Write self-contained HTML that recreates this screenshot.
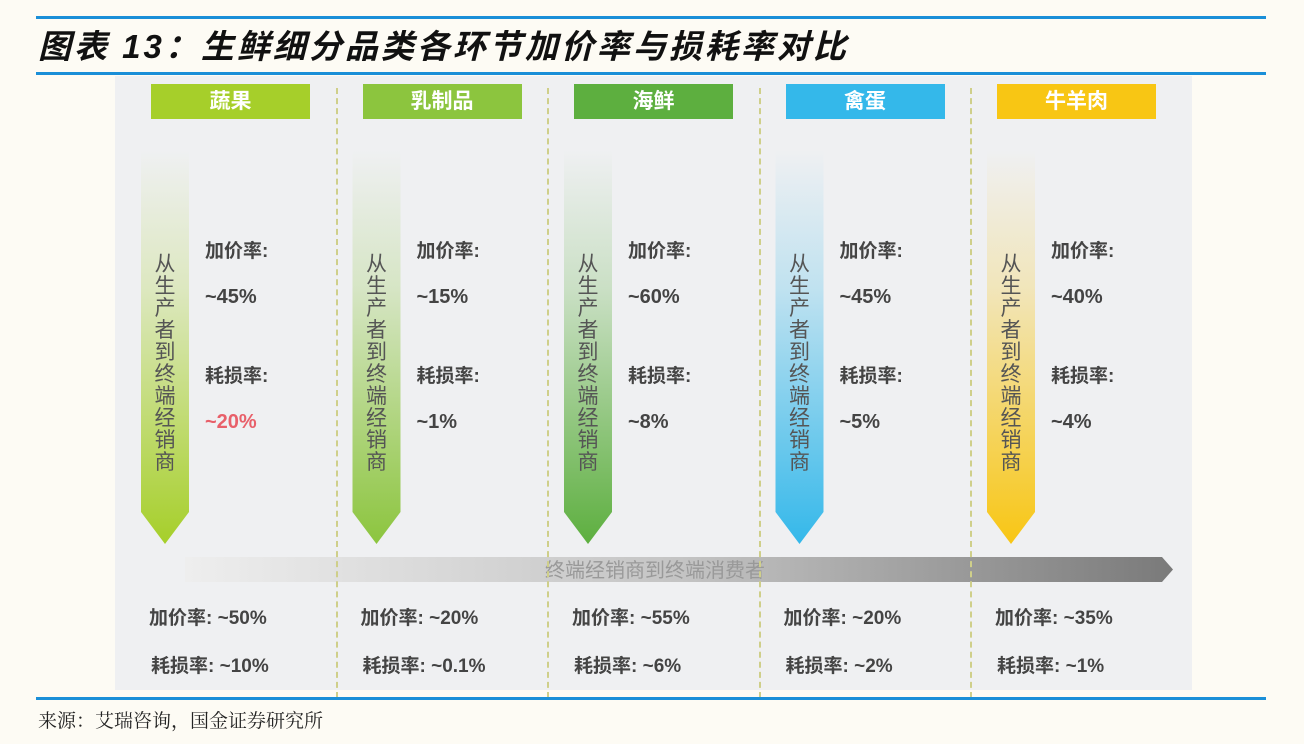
<!DOCTYPE html>
<html><head><meta charset="utf-8">
<style>
body{margin:0;width:1304px;height:744px;background:#fdfbf4;font-family:"Liberation Sans","Noto Sans CJK SC",sans-serif;position:relative;overflow:hidden}
.abs{position:absolute}
.hline{position:absolute;left:36px;width:1230px;height:3px;background:#1a8fd8}
.title{position:absolute;left:38px;top:20px;font-family:"Liberation Sans","Noto Sans CJK SC",sans-serif;font-size:33px;font-weight:bold;font-style:italic;color:#111;letter-spacing:3px;white-space:nowrap}
.panel{position:absolute;left:115px;top:76px;width:1077px;height:614px;background:#eff0f2}
.sep{position:absolute;top:88px;height:610px;border-left:2px dashed #cfcf8a}
.hdr{position:absolute;top:84px;height:35px;color:#fff;font-weight:bold;font-size:21px;text-align:center;line-height:35px}
.lab{position:absolute;color:#444;font-size:19px;font-weight:bold;white-space:nowrap}
.vt{position:absolute;width:24px;font-size:21px;line-height:22px;color:#555;text-align:center}
.src{position:absolute;left:38px;top:706px;font-family:"Liberation Serif","Noto Serif CJK SC",serif;font-size:19px;color:#222}
</style></head><body>
<div class="hline" style="top:16px"></div>
<div class="title">图表 13：生鲜细分品类各环节加价率与损耗率对比</div>
<div class="hline" style="top:72px"></div>
<div class="panel"></div>
<svg class="abs" style="left:0;top:0" width="1304" height="744">
<defs><linearGradient id="gb" x1="0" x2="1" y1="0" y2="0"><stop offset="0" stop-color="#eeeeee"/><stop offset="0.5" stop-color="#c4c4c4"/><stop offset="1" stop-color="#7a7a7a"/></linearGradient></defs>
<polygon points="185,557 1162,557 1173,569.5 1162,582 185,582" fill="url(#gb)"/>
<text x="655" y="577" text-anchor="middle" font-size="20" fill="#999" font-family="Liberation Sans, Noto Sans CJK SC, sans-serif">终端经销商到终端消费者</text>
<g id="arrows"></g>
</svg>
<div id="cols"></div>
<div class="hline" style="top:697px"></div>
<div class="src">来源：艾瑞咨询，国金证券研究所</div>
<script>
const categories=["蔬果","乳制品","海鲜","禽蛋","牛羊肉"];
const colors=["#a6cf2a","#8cc53e","#5daf3f","#34b8ea","#f8c614"];
const upMarkup=["~45%","~15%","~60%","~45%","~40%"];
const upLoss=["~20%","~1%","~8%","~5%","~4%"];
const downMarkup=["~50%","~20%","~55%","~20%","~35%"];
const downLoss=["~10%","~0.1%","~6%","~2%","~1%"];
const colX=i=>141+i*211.5;
const cols=document.getElementById('cols');
const g=document.getElementById('arrows');
const ns="http://www.w3.org/2000/svg";
for(let i=0;i<categories.length;i++){
  const x=colX(i);
  if(i>0){const s=document.createElement('div');s.className='sep';s.style.left=(x-17)+'px';
  
  
  cols.appendChild(s);}
  const h=document.createElement('div');h.className='hdr';h.style.left=(x+10)+'px';h.style.width='159px';h.style.background=colors[i];h.textContent=categories[i];
  
  
  cols.appendChild(h);
  const gr=document.createElementNS(ns,'linearGradient');gr.setAttribute('id','ga'+i);gr.setAttribute('x1','0');gr.setAttribute('x2','0');gr.setAttribute('y1','0');gr.setAttribute('y2','1');
  gr.innerHTML=`<stop offset="0" stop-color="${colors[i]}" stop-opacity="0"/><stop offset="0.35" stop-color="${colors[i]}" stop-opacity="0.25"/><stop offset="1" stop-color="${colors[i]}"/>`;
  g.appendChild(gr);
  const p=document.createElementNS(ns,'polygon');
  p.setAttribute('points',`${x},150 ${x+48},150 ${x+48},512 ${x+24},544 ${x},512`);
  p.setAttribute('fill',`url(#ga${i})`);
  
  
  g.appendChild(p);
  const vt=document.createElement('div');vt.className='vt';vt.style.left=(x+12)+'px';vt.style.top='254px';vt.textContent='从生产者到终端经销商';
  
  
  cols.appendChild(vt);
  const tx=x+64;
  const items=[["加价率:",236,"#444"],[upMarkup[i],286,"#444"],["耗损率:",361,"#444"],[upLoss[i],411,i===0?"#e8606a":"#444"]];
  items.forEach((it,k)=>{const d=document.createElement('div');d.className='lab';d.style.left=tx+'px';d.style.top=it[1]+'px';d.style.color=it[2];d.style.fontSize=(k%2?'20px':'19px');d.textContent=it[0];
  
  
  cols.appendChild(d);});
  const b1=document.createElement('div');b1.className='lab';b1.style.left=(x+8)+'px';b1.style.top='603px';b1.textContent='加价率: '+downMarkup[i];
  
  
  cols.appendChild(b1);
  const b2=document.createElement('div');b2.className='lab';b2.style.left=(x+10)+'px';b2.style.top='651px';b2.textContent='耗损率: '+downLoss[i];
  
  
  cols.appendChild(b2);
}
</script>
</body></html>
